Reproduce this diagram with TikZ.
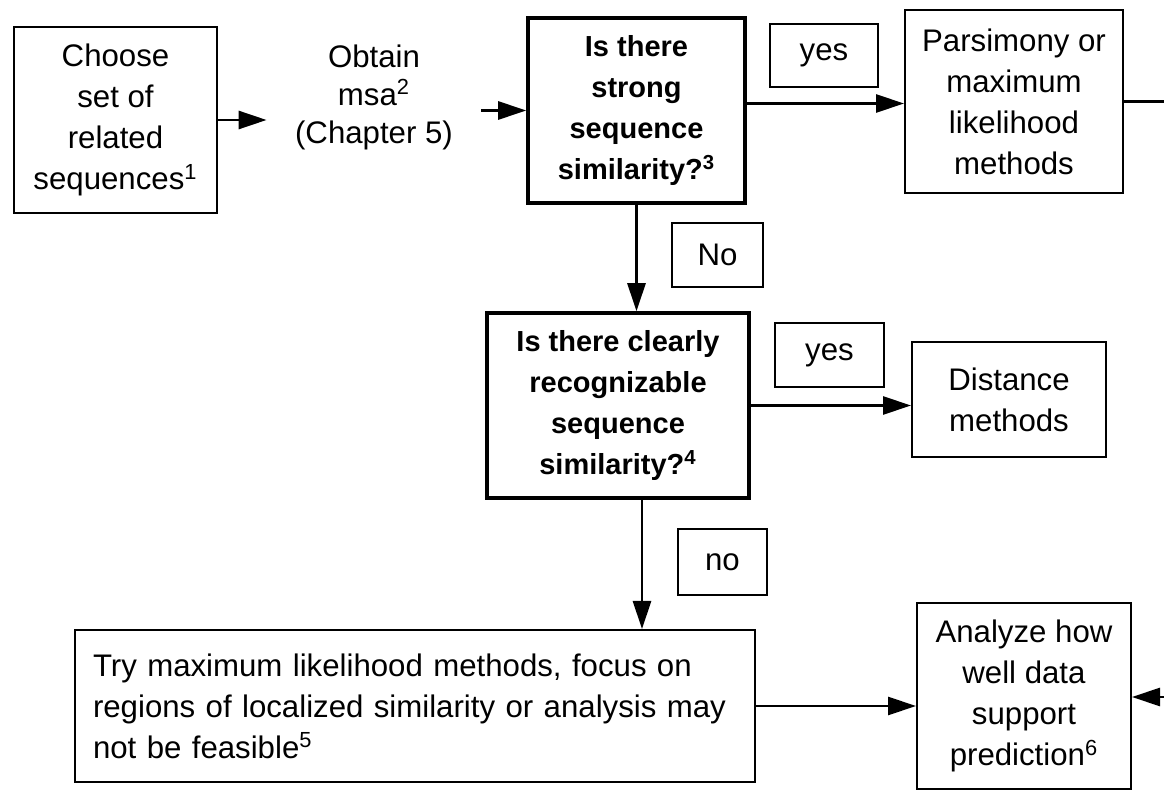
\documentclass[tikz,border=0pt]{standalone}
\usepackage{fontspec}
\setmainfont{Liberation Sans}
\usetikzlibrary{arrows.meta}
\tikzset{>={Triangle[length=14pt,width=9pt]}}

\begin{document}
\begin{tikzpicture}[x=0.5pt,y=-0.5pt]
          \tikzstyle{pnode} = [draw, line width=1pt, align=center, font=\fontsize{15.6pt}{20.5pt}\selectfont]
          \tikzstyle{qnode} = [draw, line width=1.8pt, align=center, font=\fontsize{14.5pt}{20.5pt}\selectfont\bfseries]
          \tikzstyle{lnode} = [draw, line width=1pt, font=\fontsize{15.6pt}{20.5pt}\selectfont]
          \tikzstyle{tnode} = [align=center, font=\fontsize{15.6pt}{19pt}\selectfont]
          \tikzstyle{flow} = [->, line width=1.4pt]

          \useasboundingbox (0,0) rectangle (1164,791);

            \node[pnode, minimum width=101.5pt, minimum height=93pt] (choose) at (115.5, 120) {Choose\\set of\\related\\sequences\textsuperscript{1}};
            \node[tnode, minimum width=107pt] (obtain) at (374, 97) {Obtain\\msa\textsuperscript{2}\\(Chapter 5)};
            \node[qnode, minimum width=108.5pt, minimum height=92.5pt] (strong) at (636.5, 110.5) {Is there\\strong\\sequence\\similarity?\textsuperscript{3}};
            \node[pnode, minimum width=109pt, minimum height=91.5pt] (pars) at (1014, 101.5) {Parsimony or\\maximum\\likelihood\\methods};

            \node[lnode, minimum width=54pt, minimum height=31.5pt] (yes1) at (824, 55.5) {yes};
            \node[lnode, minimum width=45.5pt, minimum height=32pt] (no1) at (717.5, 255) {No};

            \node[qnode, minimum width=131pt, minimum height=92.5pt] (clear) at (618, 405.5) {Is there clearly\\recognizable\\sequence\\similarity?\textsuperscript{4}};
            \node[pnode, minimum width=97pt, minimum height=57.5pt] (dist) at (1009, 399.5) {Distance\\methods};

            \node[lnode, minimum width=54.5pt, minimum height=32pt] (yes2) at (829.5, 355) {yes};
            \node[lnode, minimum width=44.5pt, minimum height=33pt] (no2) at (722.5, 562) {no};

            \node[pnode, minimum width=340pt, minimum height=76pt, text width=322pt, align=left] (trymax) at (415, 706) {Try maximum likelihood methods, focus on\\regions of localized similarity or analysis may\\not be feasible\textsuperscript{5}};
            \node[pnode, minimum width=107pt, minimum height=93pt] (support) at (1024, 696) {Analyze how\\well data\\support\\prediction\textsuperscript{6}};

            \coordinate (pout) at (1164, 101.5);
            \coordinate (rin) at (1164, 697);

            \draw[flow] (choose.east) to (choose.east -| obtain.west);
            \draw[flow] (obtain.east |- strong.west) to (strong.west);
            \draw[flow] ([yshift=3.5pt]strong.east) to ([yshift=3.5pt]strong.east -| pars.west);
            \draw[line width=1.4pt] (pars.east) to (pout);

            \draw[flow] (strong.south) to (strong.south |- clear.north);
            \draw[flow] (clear.east) to (clear.east -| dist.west);
            \draw[flow] ([xshift=12pt]clear.south) to ([xshift=12pt]clear.south |- trymax.north);

            \draw[flow] (trymax.east) to (trymax.east -| support.west);
            \draw[flow] (rin) to (rin -| support.east);
\end{tikzpicture}
\end{document}
